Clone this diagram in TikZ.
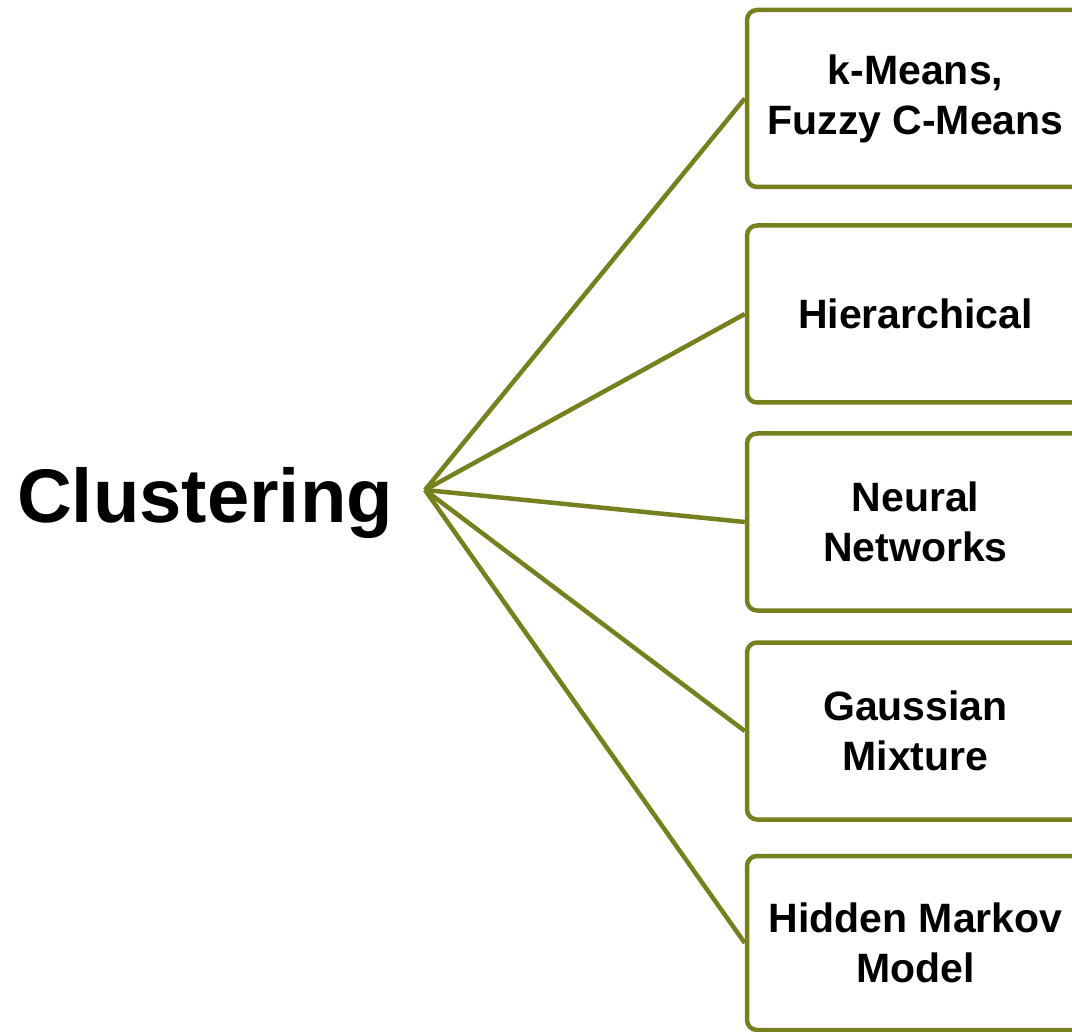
\documentclass[tikz,border=0pt]{standalone}
\usepackage{fontspec}
\setmainfont{Liberation Sans}
\usepackage{tikz}
\usetikzlibrary{positioning}
\definecolor{branchgreen}{RGB}{118,128,30}

\begin{document}
\begin{tikzpicture}[x=1pt,y=-1pt,
  method/.style={draw=branchgreen,line width=4.5pt,rounded corners=10pt,fill=white,
    minimum width=337pt,minimum height=177pt,align=center,inner sep=0pt,
    font=\fontsize{41}{50}\selectfont\bfseries},
  branch/.style={draw=branchgreen,line width=4.5pt}]
\clip (0,0) rectangle (1072,1032);

\node[font=\fontsize{76}{90}\selectfont\bfseries,anchor=base] (clust) at (205,522) {Clustering};
\coordinate (hub) at (425,490);

\node[method] (kmeans) at (915.5,98.5) {k-Means,\\Fuzzy C-Means};
\node[method] (hier) at (915.5,314) {Hierarchical};
\node[method] (neural) at (915.5,522) {Neural\\Networks};
\node[method] (gauss) at (915.5,731) {Gaussian\\Mixture};
\node[method,minimum height=174pt] (hmm) at (915.5,943) {Hidden Markov\\Model};

\draw[branch] (hub) -- (kmeans.west);
\draw[branch] (hub) -- (hier.west);
\draw[branch] (hub) -- (neural.west);
\draw[branch] (hub) -- (gauss.west);
\draw[branch] (hub) -- (hmm.west);
\end{tikzpicture}
\end{document}
